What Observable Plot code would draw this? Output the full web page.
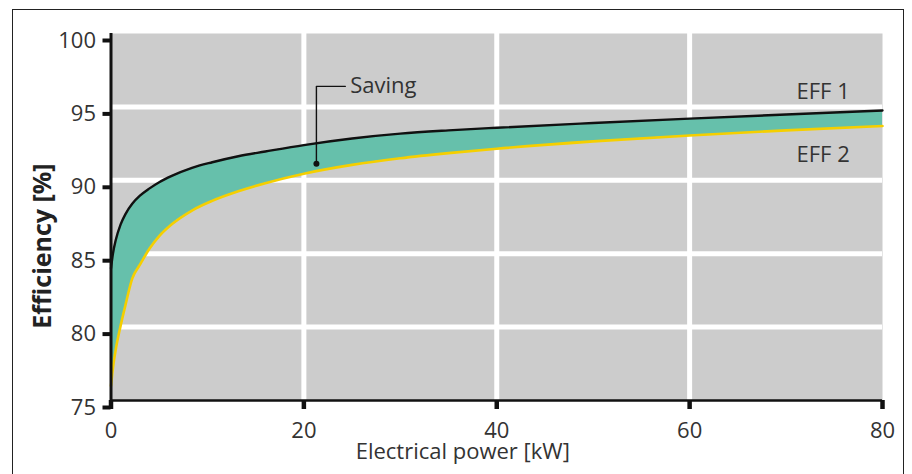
<!DOCTYPE html>
<html>
<head>
<meta charset="utf-8">
<script src="https://cdn.jsdelivr.net/npm/d3@7"></script>
<script src="https://cdn.jsdelivr.net/npm/@observablehq/plot@0.6"></script>
<style>
  html, body { margin: 0; padding: 0; background: white; overflow: hidden; }
  #wrap { position: relative; width: 912px; height: 474px; }
  #border { position: absolute; left: 12px; top: 9px; width: 892px; height: 490px; border: 1.2px solid #222; box-sizing: border-box; pointer-events: none; }
</style>
</head>
<body>
<div id="wrap"><div id="border"></div></div>
<script>
// Electrical power [kW]
const powerKW = [0, 0.2, 0.5, 1, 1.5, 2.2, 3, 4, 5, 6.3, 8.4, 10.5, 13.2, 16, 20, 25, 30, 35, 40, 50, 60, 70, 80];
// EFF 1 efficiency [%]
const eff1 = [84.0, 85.0, 85.95, 87.0, 87.7, 88.4, 88.95, 89.45, 89.87, 90.3, 90.85, 91.23, 91.64, 91.96, 92.4, 92.85, 93.18, 93.4, 93.58, 93.9, 94.2, 94.48, 94.75];
// EFF 2 efficiency [%]
const eff2 = [76.0, 77.2, 78.5, 80.1, 81.5, 83.3, 84.25, 85.35, 86.2, 87.0, 87.94, 88.6, 89.25, 89.8, 90.45, 91.05, 91.5, 91.85, 92.15, 92.65, 93.05, 93.4, 93.7];

const xTicks = [0, 20, 40, 60, 80];
const yTicks = [75, 80, 85, 90, 95, 100];
const xGrid = [20, 40, 60];
const yGrid = [80, 85, 90, 95];

// annotation (data coordinates)
const savingLeaderX = [21.3, 21.3, 24.3];
const savingLeaderY = [91.12, 96.4, 96.4];
const savingLabel = {x: 24.8, y: 96.4, text: "Saving"};
const seriesLabels = [
  {x: 76.6, y: 96.0, text: "EFF 1"},
  {x: 76.6, y: 91.7, text: "EFF 2"}
];
const xLabel = "Electrical power [kW]";
const yLabel = "Efficiency [%]";

const data = powerKW.map((p, i) => ({p, e1: eff1[i], e2: eff2[i]}));
const leader = savingLeaderX.map((x, i) => ({x, y: savingLeaderY[i]}));

const chart = Plot.plot({
  width: 912,
  height: 474,
  marginLeft: 110.5,
  marginRight: 30,
  marginTop: 33,
  marginBottom: 74,
  style: {fontFamily: "'Open Sans', sans-serif", fontSize: "22px", color: "#333", background: "transparent"},
  x: {domain: [0, 80]},
  y: {domain: [75, 100]},
  marks: [
    Plot.frame({fill: "#cccccc", stroke: null}),
    Plot.ruleX(xGrid, {stroke: "white", strokeWidth: 5}),
    Plot.ruleY(yGrid, {stroke: "white", strokeWidth: 5}),
    Plot.areaY(data, {x: "p", y1: "e2", y2: "e1", fill: "#66c0ab", curve: "monotone-x"}),
    Plot.line(data, {x: "p", y: "e2", stroke: "#f5cf00", strokeWidth: 2.6, curve: "monotone-x"}),
    Plot.line(data, {x: "p", y: "e1", stroke: "#111", strokeWidth: 2.4, curve: "monotone-x"}),
    Plot.line(leader, {x: "x", y: "y", stroke: "#111", strokeWidth: 1.4}),
    Plot.dot([leader[0]], {x: "x", y: "y", r: 3, fill: "#111"}),
    Plot.text([savingLabel], {x: "x", y: "y", text: "text", textAnchor: "start", fontSize: 22, fill: "#333"}),
    Plot.text(seriesLabels, {x: "x", y: "y", text: "text", textAnchor: "end", fontSize: 22, fill: "#333"}),
    Plot.ruleY([75], {stroke: "#111", strokeWidth: 2.5}),
    Plot.ruleX([0], {stroke: "#111", strokeWidth: 3, insetBottom: -6}),
    Plot.axisY({ticks: yTicks, tickSize: 8, tickPadding: 7, stroke: "#111", strokeWidth: 4, dy: 7, fontSize: 22, label: null}),
    Plot.axisX({ticks: xTicks, tickSize: 9, tickPadding: 13, stroke: "#111", strokeWidth: 4.5, fontSize: 22, label: null}),
    Plot.text([xLabel], {frameAnchor: "bottom", textAnchor: "middle", dx: -34, dy: 58, fontSize: 22, fill: "#333"}),
    Plot.text([yLabel], {frameAnchor: "left", textAnchor: "middle", rotate: -90, dx: -68, dy: 29, fontSize: 25, fontWeight: "bold", fill: "#222"})
  ]
});
document.getElementById("wrap").prepend(chart);
</script>
</body>
</html>
